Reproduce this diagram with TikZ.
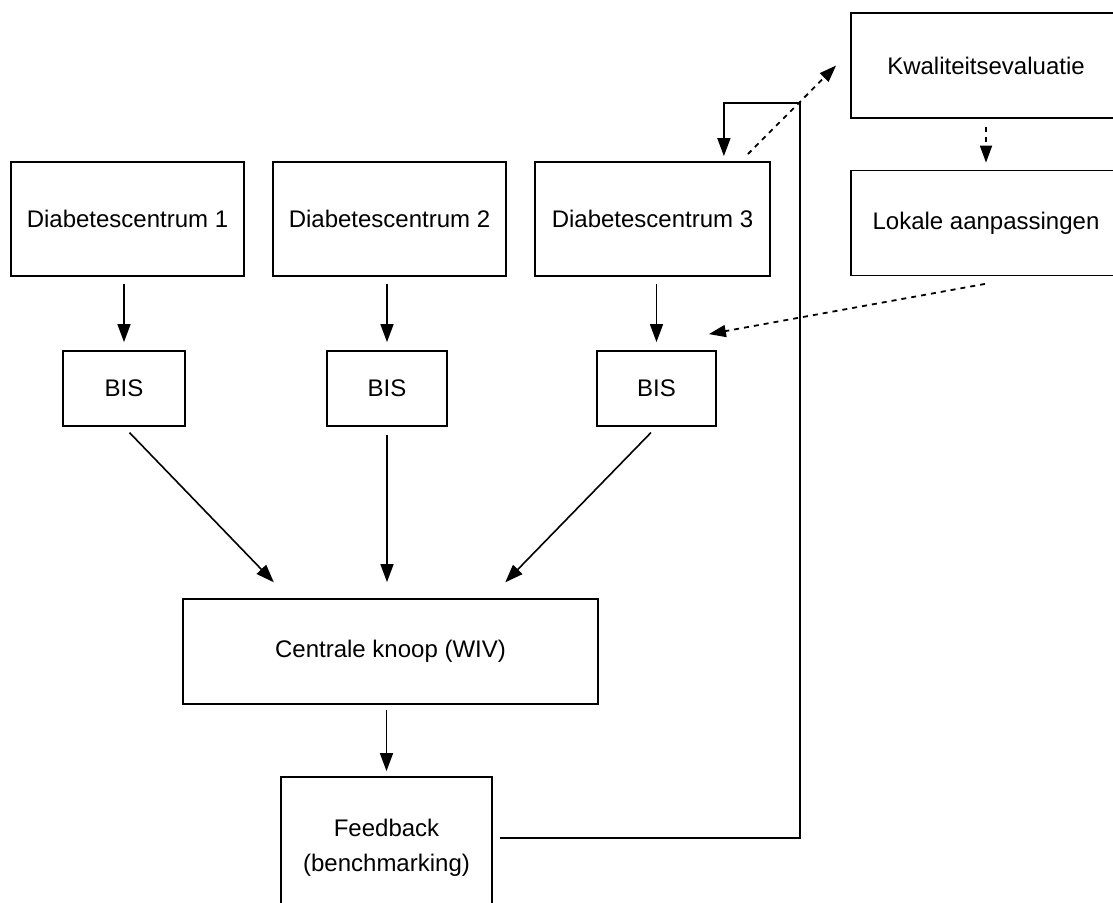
\documentclass[tikz,border=0pt]{standalone}
\usepackage{fontspec}
\setmainfont{Liberation Sans}
\usetikzlibrary{arrows.meta,calc}
\begin{document}
\begin{tikzpicture}[x=1pt,y=-1pt,
  box/.style={draw, line width=1.8pt, inner sep=0pt, align=center,
    font=\fontsize{24}{35}\selectfont},
  arr/.style={line width=1.6pt, -{Triangle[length=18pt,width=13pt]}},
  dotarr/.style={line width=1.8pt, dash pattern=on 5pt off 5pt,
    -{Triangle[length=17pt,width=12pt]}},
  ]
\useasboundingbox (0,0) rectangle (1113,902);
\fill[white] (0,0) rectangle (1113,902);
\clip (0,0) rectangle (1113,902);

% top row
\node[box, minimum width=233pt, minimum height=114pt] (d1) at (127.5,219) {Diabetescentrum 1};
\node[box, minimum width=233pt, minimum height=114pt] (d2) at (389.5,219) {Diabetescentrum 2};
\node[box, minimum width=235pt, minimum height=114pt] (d3) at (652.5,219) {Diabetescentrum 3};

% BIS row
\node[box, minimum width=122pt, minimum height=75pt] (b1) at (124,388.5) {BIS};
\node[box, minimum width=120pt, minimum height=75pt] (b2) at (387,388.5) {BIS};
\node[box, minimum width=119pt, minimum height=75pt] (b3) at (656.5,388.5) {BIS};

% central + feedback
\node[box, minimum width=415pt, minimum height=105pt] (c) at (390.5,651.5) {Centrale knoop (WIV)};
\node[box, minimum width=211pt, minimum height=142pt] (fb) at (386.5,848) {Feedback\\(benchmarking)};

% right column
\node[box, minimum width=270pt, minimum height=105pt] (kw) at (986,65.5) {Kwaliteitsevaluatie};
\node[box, minimum width=270pt, minimum height=105pt] (lk) at (986,223) {Lokale aanpassingen};

% centres to BIS
\draw[arr, shorten <=7pt, shorten >=8pt] (d1.south -| b1.north) -- (b1.north);
\draw[arr, shorten <=7pt, shorten >=8pt] (d2.south -| b2.north) -- (b2.north);
\draw[arr, shorten <=7pt, shorten >=8pt] (d3.south -| b3.north) -- (b3.north);

% BIS to central node
\coordinate (cin1) at ($(c.north west)+(107,0)$);
\coordinate (cin3) at ($(c.north east)+(-109,0)$);
\draw[arr, shorten <=8pt, shorten >=22pt] (b1.south) -- (cin1);
\draw[arr, shorten <=8pt, shorten >=16pt] (b2.south) -- (c.north -| b2.south);
\draw[arr, shorten <=8pt, shorten >=22pt] (b3.south) -- (cin3);

% central to feedback
\draw[arr, shorten <=5pt, shorten >=5pt] (c.south -| fb.north) -- (fb.north);

% feedback loop back to centre 3
\coordinate (fbout) at ($(fb.east)+(7,-10)$);
\coordinate (loopTR) at (800,103);
\coordinate (d3in) at ($(d3.north east)+(-47,-5)$);
\draw[arr] (fbout) -| (loopTR) -| (d3in);

% dotted / dashed arrows
\coordinate (d3out) at ($(d3.north east)+(-23,-7)$);
\coordinate (kwin) at ($(kw.west)+(-14,0)$);
\draw[dotarr] (d3out) -- (kwin);
\draw[dotarr, shorten <=8pt, shorten >=7pt] (kw.south) -- (lk.north);
\coordinate (lkout) at ($(lk.south)+(-1,7.5)$);
\coordinate (b3in) at ($(b3.north east)+(-8,-16)$);
\draw[dotarr] (lkout) -- (b3in);
\end{tikzpicture}
\end{document}
